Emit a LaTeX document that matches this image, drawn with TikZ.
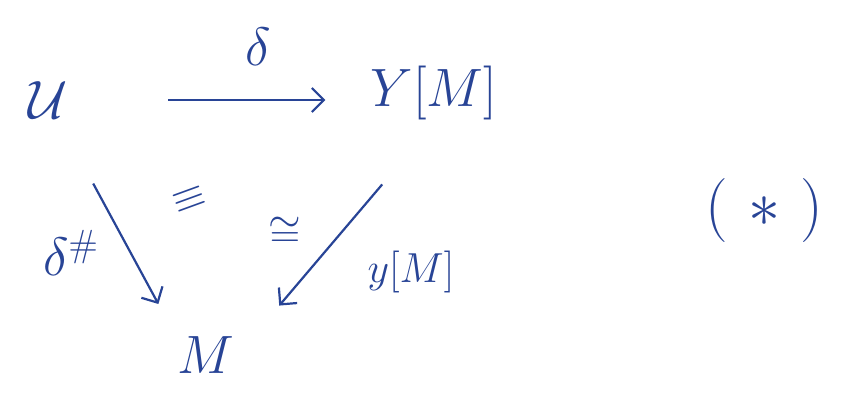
\RequirePackage{fix-cm}
\documentclass[tikz,border=0pt]{standalone}
\usepackage{amsmath}
\usepackage{amsfonts}
\usetikzlibrary{arrows.meta, positioning}
\definecolor{ink}{RGB}{40,68,150}
\tikzstyle{obj}=[text=ink,font=\fontsize{54}{58}\selectfont]
\tikzstyle{lbl}=[text=ink,font=\fontsize{42}{46}\selectfont,inner sep=1pt]
\tikzstyle{mor}=[draw=ink,line width=2.2pt,->]

\begin{document}
\begin{tikzpicture}[x=1pt,y=-1pt,>={Straight Barb[length=12pt,width=24pt]}]
    \useasboundingbox (0,0) rectangle (842,393);
    \node[obj] (U) at (48,100) {$\mathcal{U}$};
    \node[obj, right of=U, node distance=386pt, yshift=7pt] (Y) {$Y[M]$};
    \node[obj] (M) at (206,355) {$M$};
    \node[obj, font=\fontsize{64}{68}\selectfont] (star) at (764,210) {$(\hspace{20pt}\ast\hspace{20pt})$};
    \node[lbl, rotate=20] (eq) at (190,200) {$\equiv$};
    \draw[mor, shorten <=97pt, shorten >=42pt] (U) -- (U -| Y.west)
        node[obj, pos=0.63, above=30pt] (d) {$\delta$};
    \draw[mor, shorten <=70pt, shorten >=33pt] (U) -- (M.north west)
        node[obj, pos=0.62, left=28pt] (dsharp) {$\delta^\#$};
    \draw[mor, shorten <=80pt, shorten >=36pt] (Y.south) -- ([xshift=18pt]M.north east)
        node[lbl, pos=0.52, left=38pt] (iso) {$\cong$}
        node[lbl, pos=0.71, right=58pt] (yM) {$y[M]$};
\end{tikzpicture}
\end{document}
